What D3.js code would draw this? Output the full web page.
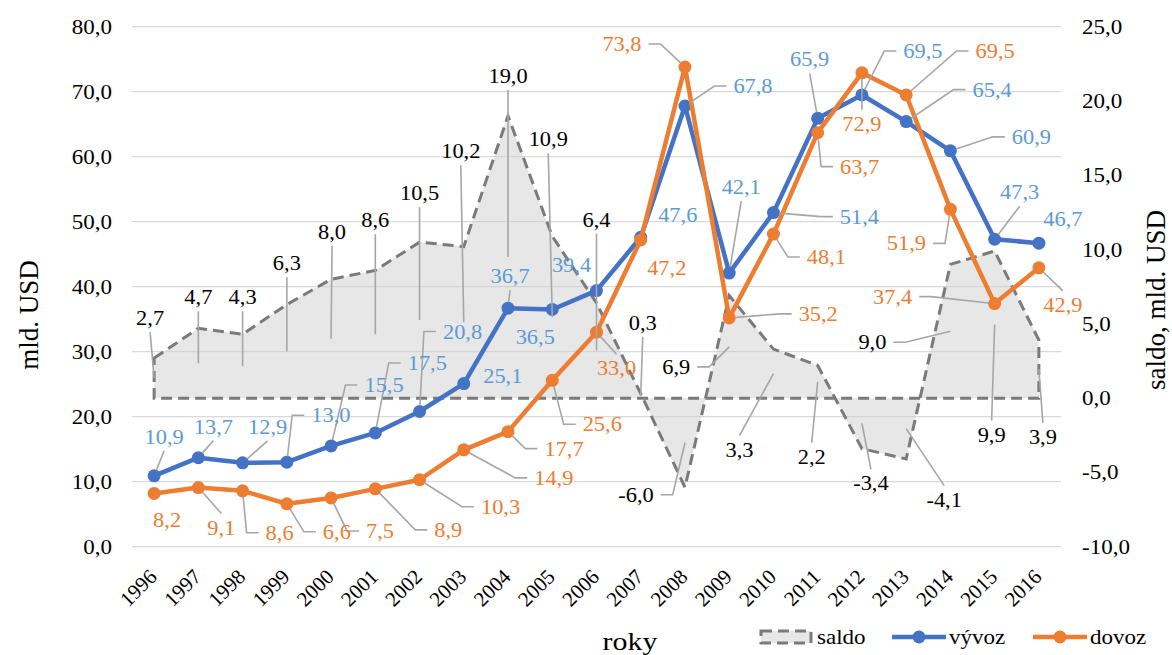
<!DOCTYPE html>
<html>
<head>
<meta charset="utf-8">
<script src="https://cdn.jsdelivr.net/npm/d3@7"></script>
<style>
  body { margin: 0; background: #fff; }
  text { font-family: "Liberation Serif", "Times New Roman", serif; }
</style>
</head>
<body>
<div id="chart"></div>
<script>
// data
const roky = ["1996", "1997", "1998", "1999", "2000", "2001", "2002", "2003", "2004", "2005", "2006",
    "2007", "2008", "2009", "2010", "2011", "2012", "2013", "2014", "2015", "2016"];
const vyvoz = [10.9, 13.7, 12.9, 13.0, 15.5, 17.5, 20.8, 25.1, 36.7, 36.5, 39.4,
    47.6, 67.8, 42.1, 51.4, 65.9, 69.5, 65.4, 60.9, 47.3, 46.7];
const dovoz = [8.2, 9.1, 8.6, 6.6, 7.5, 8.9, 10.3, 14.9, 17.7, 25.6, 33.0,
    47.2, 73.8, 35.2, 48.1, 63.7, 72.9, 69.5, 51.9, 37.4, 42.9];
const saldo = [2.7, 4.7, 4.3, 6.3, 8.0, 8.6, 10.5, 10.2, 19.0, 10.9, 6.4,
    0.3, -6.0, 6.9, 3.3, 2.2, -3.4, -4.1, 9.0, 9.9, 3.9];
const leftTicks = [0, 10, 20, 30, 40, 50, 60, 70, 80];
const rightTicks = [-10, -5, 0, 5, 10, 15, 20, 25];

// label layout (offset of the label from its anchor, leader type: v vertical, s side, n none)
const vyvozLab = [[10, -39, "v"], [15, -31, "v"], [25, -36, "v"], [44, -47, "s"], [53, -61, "s"], [52, -70, "s"],
    [43, -80, "s"], [39, -8, "n"], [2, -32, "v"], [-17, 28, "n"], [-25, -26, "n"], [37, -22, "n"],
    [68, -20, "s"], [12, -86, "v"], [86, 4, "s"], [-8, -59, "v"], [61, -44, "s"], [86, -32, "s"],
    [81, -14, "s"], [25, -47, "v"], [24, -24, "n"]];
const dovozLab = [[13, 27, "n"], [23, 40, "v"], [37, 42, "s"], [50, 28, "s"], [49, 33, "s"], [73, 41, "s"],
    [81, 27, "s"], [90, 28, "s"], [56, 17, "s"], [50, 44, "s"], [20, 36, "v"], [26, 28, "n"],
    [-63, -23, "s"], [89, -4, "s"], [53, 23, "s"], [42, 34, "s"], [0, 51, "v"], [89, -44, "s"],
    [-44, 34, "s"], [-102, -7, "s"], [24, 37, "v"]];
const saldoLab = [[-4, -60, "v"], [0, -66, "v"], [0, -69, "v"], [0, -88, "v"], [1, -107, "v"], [0, -114, "v"],
    [0, -127, "v"], [-3, -171, "v"], [0, -181, "v"], [-4, -178, "v"], [0, -131, "v"], [2, -73, "v"],
    [-49, 52, "s"], [-53, 20, "s"], [-34, 76, "v"], [-6, 75, "v"], [9, 60, "v"], [38, 71, "v"],
    [-78, 11, "s"], [-3, 110, "v"], [4, 68, "v"]];

const modra = "#4472C4", oranzova = "#ED7D31", modraText = "#5B9BD5";

const W = 1172, H = 655;
const svg = d3.select("#chart").append("svg")
    .attr("width", W)
    .attr("height", H);

const cz = d3.formatLocale({ decimal: ",", thousands: " ", grouping: [3], currency: ["", ""], minus: "-" });
const fmt = cz.format(".1f");

const x = d3.scalePoint().domain(roky).range([132, 1061]).padding(0.5);
const yL = d3.scaleLinear().domain([0, 80]).range([546.7, 26.7]);
const yR = d3.scaleLinear().domain([-10, 25]).range([546.7, 26.7]);

// text with a little horizontal stretch, like in the original
function stext(parent, tx, ty, str, size, sx, anchor, fill) {
    return parent.append("text")
        .attr("transform", `translate(${tx},${ty}) scale(${sx},1)`)
        .attr("text-anchor", anchor)
        .attr("dy", "0.35em")
        .style("font-size", size + "px")
        .attr("fill", fill)
        .text(str);
}

const gGrid = svg.append("g");
const gArea = svg.append("g");
const gLines = svg.append("g");
const gLead = svg.append("g");
const gLab = svg.append("g");

// gridlines + axes
gGrid.selectAll("line").data(leftTicks).enter().append("line")
    .attr("x1", 132).attr("x2", 1061)
    .attr("y1", d => yL(d)).attr("y2", d => yL(d))
    .attr("stroke", "#d9d9d9").attr("stroke-width", 1.3);

leftTicks.forEach(t => stext(gGrid, 112, yL(t), fmt(t), 20, 1.15, "end", "#000"));
rightTicks.forEach(t => stext(gGrid, 1082, yR(t), fmt(t), 20, 1.15, "start", "#000"));

roky.forEach(r => {
    gGrid.append("text")
        .attr("transform", `translate(${x(r) + 4},578) rotate(-45)`)
        .attr("text-anchor", "end")
        .style("font-size", "21px")
        .attr("fill", "#000")
        .text(r);
});

gGrid.append("text")
    .attr("transform", "translate(29,315) rotate(-90)")
    .attr("text-anchor", "middle").attr("dy", "0.35em")
    .style("font-size", "27px").text("mld. USD");
gGrid.append("text")
    .attr("transform", "translate(1156,300) rotate(-90)")
    .attr("text-anchor", "middle").attr("dy", "0.35em")
    .style("font-size", "27px").text("saldo, mld. USD");
stext(gGrid, 630, 641, "roky", 26, 1.15, "middle", "#000");

// saldo area
const area = d3.area()
    .x((d, i) => x(roky[i]))
    .y0(yR(0))
    .y1(d => yR(d));
gArea.append("path")
    .datum(saldo)
    .attr("d", area)
    .attr("fill", "#cfcfcf").attr("fill-opacity", 0.5)
    .attr("stroke", "#7a7a7a").attr("stroke-width", 3)
    .attr("stroke-dasharray", "11,6");

// lines
const line = y => d3.line().x((d, i) => x(roky[i])).y(d => y(d));
[[vyvoz, modra], [dovoz, oranzova]].forEach(([vals, col]) => {
    gLines.append("path").datum(vals)
        .attr("d", line(yL))
        .attr("fill", "none").attr("stroke", col)
        .attr("stroke-width", 4.5).attr("stroke-linejoin", "round");
    gLines.selectAll(null).data(vals).enter().append("circle")
        .attr("cx", (d, i) => x(roky[i])).attr("cy", d => yL(d))
        .attr("r", 6.5).attr("fill", col);
});

// data labels with leader lines
function labels(vals, anchorY, lay, color, r) {
    vals.forEach((v, i) => {
        const ax = x(roky[i]), ay = anchorY(v);
        const cx = ax + lay[i][0], cy = ay + lay[i][1];
        const t = stext(gLab, cx, cy, fmt(v), 20, 1.12, "middle", color);
        const w = t.node().getComputedTextLength() * 1.12 / 2, h = 9;
        let pts = null;
        if (lay[i][2] === "v") {
            const sy = ay < cy ? cy - h - 5 : cy + h + 5;
            pts = [[cx, sy], [ax, ay]];
        } else if (lay[i][2] === "s") {
            const dir = ax < cx ? -1 : 1;
            const s0 = cx + dir * (w + 7);
            pts = [[s0, cy], [s0 + dir * 12, cy], [ax, ay]];
        }
        if (pts) {
            const p = pts[pts.length - 2], a = pts[pts.length - 1];
            const L = Math.hypot(p[0] - a[0], p[1] - a[1]);
            if (r > 0 && L > r) pts[pts.length - 1] = [a[0] + (p[0] - a[0]) * r / L, a[1] + (p[1] - a[1]) * r / L];
            gLead.append("path")
                .attr("d", d3.line()(pts))
                .attr("fill", "none").attr("stroke", "#a6a6a6").attr("stroke-width", 1.6);
        }
    });
}
labels(saldo, s => (yR(s) + yR(0)) / 2, saldoLab, "#000", 0);
labels(vyvoz, yL, vyvozLab, modraText, 6);
labels(dovoz, yL, dovozLab, oranzova, 6);

// legend
const leg = svg.append("g");
leg.append("rect")
    .attr("x", 761).attr("y", 631).attr("width", 50).attr("height", 12)
    .attr("fill", "#cfcfcf").attr("fill-opacity", 0.5)
    .attr("stroke", "#7a7a7a").attr("stroke-width", 3).attr("stroke-dasharray", "11,6");
stext(leg, 817, 637, "saldo", 20, 1.15, "start", "#000");
[[892, modra, "vývoz"], [1033, oranzova, "dovoz"]].forEach(([lx, col, name]) => {
    leg.append("line").attr("x1", lx).attr("x2", lx + 54).attr("y1", 637).attr("y2", 637)
        .attr("stroke", col).attr("stroke-width", 4.5);
    leg.append("circle").attr("cx", lx + 27).attr("cy", 637).attr("r", 6.5).attr("fill", col);
    stext(leg, lx + 57, 637, name, 20, 1.15, "start", "#000");
});
</script>
</body>
</html>
